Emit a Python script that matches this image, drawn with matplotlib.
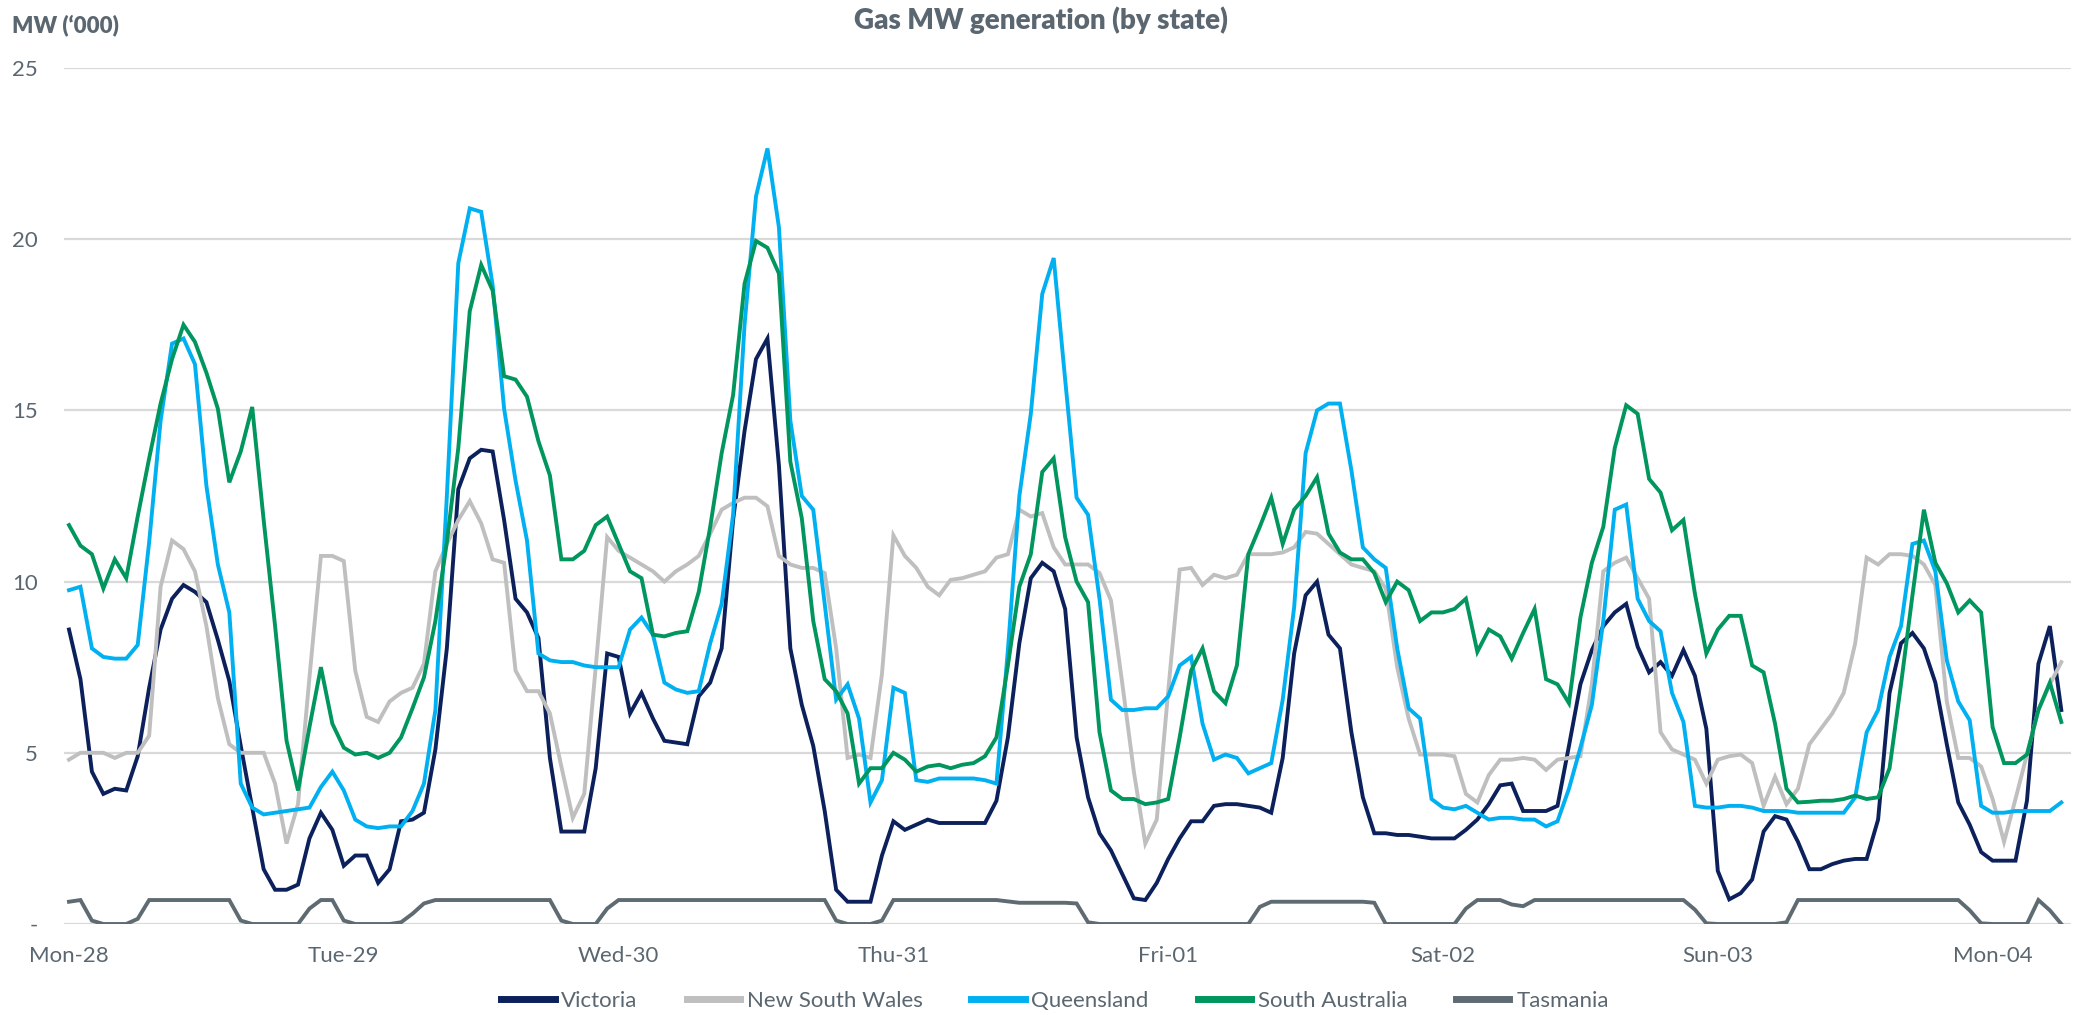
import numpy as np
import matplotlib
matplotlib.use("Agg")
import matplotlib.pyplot as plt

# hourly gas generation by state, MW ('000), Mon-28 00:00 onwards
victoria = [8.6, 7.15, 4.45, 3.8, 3.95, 3.9, 4.9, 6.9, 8.6, 9.5, 9.9, 9.7, 9.4, 8.3, 7.1, 5.2, 3.4, 1.6, 1.0, 1.0,
            1.15, 2.5, 3.25, 2.75, 1.7, 2.0, 2.0, 1.2, 1.6, 3.0,
            3.05, 3.25, 5.1, 8.05, 12.7, 13.6, 13.85, 13.8, 11.8, 9.5, 9.1, 8.35, 4.85, 2.7, 2.7, 2.7, 4.55, 7.9, 7.8, 6.15,
            6.75, 6.0, 5.35, 5.3, 5.25, 6.65, 7.05, 8.05, 11.8, 14.4,
            16.5, 17.1, 13.4, 8.05, 6.4, 5.2, 3.3, 1.0, 0.65, 0.65, 0.65, 2.0, 3.0, 2.75, 2.9, 3.05, 2.95, 2.95, 2.95, 2.95,
            2.95, 3.6, 5.45, 8.2, 10.1, 10.55, 10.3, 9.2, 5.45, 3.7,
            2.65, 2.15, 1.45, 0.75, 0.7, 1.2, 1.9, 2.5, 3.0, 3.0, 3.45, 3.5, 3.5, 3.45, 3.4, 3.25, 4.85, 7.9, 9.6, 10.0,
            8.45, 8.05, 5.6, 3.7, 2.65, 2.65, 2.6, 2.6, 2.55, 2.5,
            2.5, 2.5, 2.75, 3.05, 3.5, 4.05, 4.1, 3.3, 3.3, 3.3, 3.45, 5.2, 7.0, 8.0, 8.7, 9.1, 9.35, 8.1, 7.35, 7.65,
            7.25, 8.0, 7.25, 5.7, 1.55, 0.72, 0.9, 1.3, 2.7,
            3.15, 3.05, 2.4, 1.6, 1.6, 1.75, 1.85, 1.9, 1.9, 3.05, 6.75, 8.2, 8.5, 8.05, 7.05, 5.25, 3.55, 2.9, 2.1, 1.85,
            1.85, 1.85, 3.6, 7.6, 8.7, 6.25]

nsw = [4.8, 5.0, 5.0, 5.0, 4.85, 5.0, 5.0, 5.5, 9.85, 11.2, 10.95, 10.3, 8.7, 6.6, 5.25, 5.0, 5.0, 5.0, 4.1, 2.35,
       3.5, 7.2, 10.75, 10.75, 10.6, 7.4, 6.05, 5.9, 6.5, 6.75,
       6.9, 7.6, 10.3, 11.1, 11.8, 12.35, 11.7, 10.65, 10.55, 7.4, 6.8, 6.8, 6.15, 4.6, 3.1, 3.8, 7.5, 11.3, 10.9, 10.7,
       10.5, 10.3, 10.0, 10.3, 10.5, 10.75, 11.4, 12.1, 12.3, 12.45,
       12.45, 12.2, 10.75, 10.5, 10.4, 10.4, 10.25, 8.05, 4.85, 4.95, 4.85, 7.3, 11.35, 10.75, 10.4, 9.85, 9.6, 10.05, 10.1, 10.2,
       10.3, 10.7, 10.8, 12.1, 11.9, 12.0, 11.0, 10.5, 10.5, 10.5,
       10.25, 9.45, 7.0, 4.45, 2.35, 3.05, 6.8, 10.35, 10.4, 9.9, 10.2, 10.1, 10.2, 10.8, 10.8, 10.8, 10.85, 11.0, 11.45, 11.4,
       11.1, 10.8, 10.5, 10.4, 10.3, 9.8, 7.5, 6.0, 4.95, 4.95,
       4.95, 4.9, 3.8, 3.55, 4.35, 4.8, 4.8, 4.85, 4.8, 4.5, 4.8, 4.85, 4.9, 7.0, 10.3, 10.55, 10.7, 10.1, 9.5, 5.6,
       5.1, 4.95, 4.8, 4.1, 4.8, 4.9, 4.95, 4.7, 3.45,
       4.3, 3.5, 3.95, 5.25, 5.7, 6.15, 6.75, 8.2, 10.7, 10.5, 10.8, 10.8, 10.75, 10.5, 9.9, 6.5, 4.85, 4.85, 4.6, 3.65,
       2.4, 3.65, 4.95, 6.25, 7.0, 7.65]

queensland = [9.75, 9.85, 8.05, 7.8, 7.75, 7.75, 8.15, 11.15, 14.7, 16.95, 17.1, 16.35, 12.8, 10.5, 9.1, 4.1, 3.4, 3.2, 3.25, 3.3,
              3.35, 3.4, 4.0, 4.45, 3.9, 3.05, 2.85, 2.8, 2.85, 2.85,
              3.3, 4.1, 6.25, 12.5, 19.3, 20.9, 20.8, 18.65, 15.05, 12.95, 11.2, 7.9, 7.7, 7.65, 7.65, 7.55, 7.5, 7.5, 7.5, 8.6,
              8.95, 8.45, 7.05, 6.85, 6.75, 6.8, 8.2, 9.35, 11.95, 17.5,
              21.25, 22.65, 20.35, 14.7, 12.5, 12.1, 9.35, 6.55, 7.0, 6.0, 3.55, 4.2, 6.9, 6.75, 4.2, 4.15, 4.25, 4.25, 4.25, 4.25,
              4.2, 4.1, 8.0, 12.5, 14.9, 18.4, 19.45, 15.9, 12.45, 11.95,
              9.5, 6.55, 6.25, 6.25, 6.3, 6.3, 6.65, 7.55, 7.8, 5.85, 4.8, 4.95, 4.85, 4.4, 4.55, 4.7, 6.55, 9.25, 13.75, 15.0,
              15.2, 15.2, 13.25, 11.0, 10.65, 10.4, 8.05, 6.3, 6.0, 3.65,
              3.4, 3.35, 3.45, 3.25, 3.05, 3.1, 3.1, 3.05, 3.05, 2.85, 3.0, 3.95, 5.15, 6.4, 8.85, 12.1, 12.25, 9.5, 8.85, 8.55,
              6.75, 5.9, 3.45, 3.4, 3.4, 3.45, 3.45, 3.4, 3.3,
              3.3, 3.3, 3.25, 3.25, 3.25, 3.25, 3.25, 3.7, 5.6, 6.25, 7.8, 8.7, 11.1, 11.2, 10.3, 7.7, 6.5, 5.95, 3.45, 3.25,
              3.25, 3.3, 3.3, 3.3, 3.3, 3.55]

south_australia = [11.65, 11.05, 10.8, 9.8, 10.65, 10.1, 11.9, 13.6, 15.2, 16.5, 17.5, 17.0, 16.1, 15.05, 12.9, 13.8, 15.1, 11.8, 8.7, 5.35,
                   3.9, 5.75, 7.5, 5.85, 5.15, 4.95, 5.0, 4.85, 5.0, 5.45,
                   6.3, 7.2, 8.85, 11.15, 13.9, 17.9, 19.25, 18.5, 16.0, 15.9, 15.4, 14.1, 13.1, 10.65, 10.65, 10.9, 11.65, 11.9, 11.1, 10.3,
                   10.1, 8.45, 8.4, 8.5, 8.55, 9.7, 11.6, 13.75, 15.45, 18.7,
                   19.95, 19.75, 19.0, 13.5, 11.85, 8.85, 7.15, 6.8, 6.15, 4.1, 4.55, 4.55, 5.0, 4.8, 4.45, 4.6, 4.65, 4.55, 4.65, 4.7,
                   4.9, 5.45, 7.55, 9.85, 10.8, 13.2, 13.6, 11.3, 10.0, 9.4,
                   5.6, 3.9, 3.65, 3.65, 3.5, 3.55, 3.65, 5.45, 7.4, 8.05, 6.8, 6.45, 7.55, 10.8, 11.6, 12.45, 11.1, 12.1, 12.5, 13.05,
                   11.4, 10.85, 10.65, 10.65, 10.25, 9.4, 10.0, 9.75, 8.85, 9.1,
                   9.1, 9.2, 9.5, 7.95, 8.6, 8.4, 7.75, 8.5, 9.2, 7.15, 7.0, 6.45, 8.95, 10.55, 11.6, 13.9, 15.15, 14.9, 13.0, 12.6,
                   11.5, 11.8, 9.65, 7.9, 8.6, 9.0, 9.0, 7.55, 7.35,
                   5.85, 3.95, 3.55, 3.57, 3.6, 3.6, 3.65, 3.75, 3.65, 3.7, 4.55, 7.0, 9.6, 12.1, 10.55, 9.95, 9.1, 9.45, 9.1, 5.75,
                   4.7, 4.7, 4.95, 6.25, 7.05, 5.9]

tasmania = [0.65, 0.7, 0.1, 0, 0, 0, 0.15, 0.7, 0.7, 0.7, 0.7, 0.7, 0.7, 0.7, 0.7, 0.1, 0, 0, 0, 0,
            0, 0.45, 0.7, 0.7, 0.1, 0, 0, 0, 0, 0.05,
            0.3, 0.6, 0.7, 0.7, 0.7, 0.7, 0.7, 0.7, 0.7, 0.7, 0.7, 0.7, 0.7, 0.1, 0, 0, 0, 0.45, 0.7, 0.7,
            0.7, 0.7, 0.7, 0.7, 0.7, 0.7, 0.7, 0.7, 0.7, 0.7,
            0.7, 0.7, 0.7, 0.7, 0.7, 0.7, 0.7, 0.1, 0, 0, 0, 0.1, 0.7, 0.7, 0.7, 0.7, 0.7, 0.7, 0.7, 0.7,
            0.7, 0.7, 0.66, 0.62, 0.62, 0.62, 0.62, 0.62, 0.6, 0.05,
            0, 0, 0, 0, 0, 0, 0, 0, 0, 0, 0, 0, 0, 0, 0.5, 0.65, 0.65, 0.65, 0.65, 0.65,
            0.65, 0.65, 0.65, 0.65, 0.62, 0, 0, 0, 0, 0,
            0, 0, 0.45, 0.7, 0.7, 0.7, 0.57, 0.52, 0.7, 0.7, 0.7, 0.7, 0.7, 0.7, 0.7, 0.7, 0.7, 0.7, 0.7, 0.7,
            0.7, 0.7, 0.42, 0.02, 0, 0, 0, 0, 0,
            0, 0.05, 0.7, 0.7, 0.7, 0.7, 0.7, 0.7, 0.7, 0.7, 0.7, 0.7, 0.7, 0.7, 0.7, 0.7, 0.7, 0.4, 0.02, 0,
            0, 0, 0, 0.7, 0.4, 0]

day_labels = ['Mon-28', 'Tue-29', 'Wed-30', 'Thu-31', 'Fri-01', 'Sat-02', 'Sun-03', 'Mon-04']

plt.rcParams['font.family'] = ['Lato', 'DejaVu Sans']
text_col = '#5b6770'

W, H = 2080, 1015
fig = plt.figure(figsize=(W / 100, H / 100), dpi=100)
ax = fig.add_axes([64 / W, 1 - 924 / H, (2071 - 64) / W, (924 - 68) / H])

series = [
    ('Victoria', victoria, '#0c215c'),
    ('New South Wales', nsw, '#bfbfbf'),
    ('Queensland', queensland, '#00b0f0'),
    ('South Australia', south_australia, '#00965e'),
    ('Tasmania', tasmania, '#5f6b73'),
]
x = np.arange(len(victoria))
handles = []
for name, vals, col in series:
    ln, = ax.plot(x, vals, color=col, lw=2.8, solid_joinstyle='miter', label=name)
    handles.append(ln)

ax.set_xlim(-5 / 11.45, (2071 - 69) / 11.45)
ax.set_ylim(0, 25)
ax.set_yticks([0, 5, 10, 15, 20, 25])
ax.set_yticklabels(['-', '5', '10', '15', '20', '25'])
ax.set_xticks(np.arange(0, 24 * len(day_labels), 24))
ax.set_xticklabels(day_labels)
ax.yaxis.grid(True, color='#d9d9d9', lw=1.6)
ax.set_axisbelow(True)
for s in ax.spines.values():
    s.set_visible(False)
ax.tick_params(axis='both', length=0, labelsize=16, labelcolor=text_col)
ax.tick_params(axis='y', pad=19)
ax.tick_params(axis='x', pad=16)

fig.text(1041 / W, 1 - 20 / H, 'Gas MW generation (by state)', ha='center', va='center',
         fontsize=20, fontweight='heavy', color=text_col)
fig.text(12 / W, 1 - 25 / H, 'MW (\u2018000)', ha='left', va='center',
         fontsize=16, fontweight='heavy', color=text_col)

leg = fig.legend(handles=handles, loc='center', bbox_to_anchor=(1055 / W, 1 - 1001 / H), ncol=5,
                 frameon=False, fontsize=16, handlelength=2.4, columnspacing=2.2, handletextpad=0.3)
for t in leg.get_texts():
    t.set_color(text_col)
for lh in leg.get_lines():
    lh.set_linewidth(5)

fig.savefig('out.png', dpi=100)
